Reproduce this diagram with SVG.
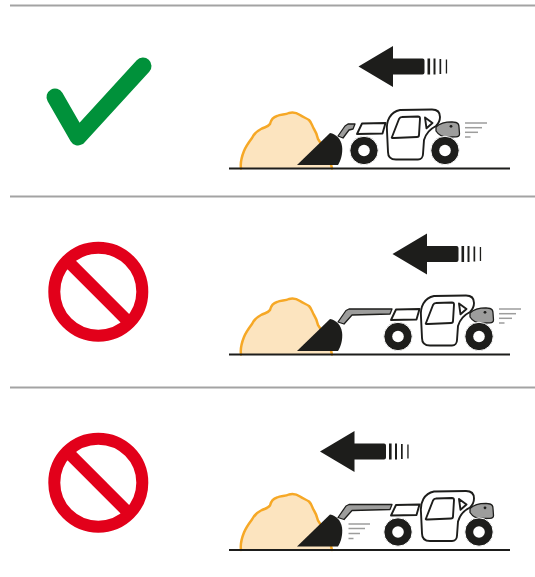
<svg xmlns="http://www.w3.org/2000/svg" width="535" height="577" viewBox="0 0 535 577">
  <defs>
    <style>
      .sep{stroke:#a3a3a3;stroke-width:1.8}
      .ink{fill:#1d1d1b}
      .panel{fill:#fff;stroke:#1d1d1b;stroke-width:1.9;stroke-linejoin:round}
      .grey{fill:#9d9d9c;stroke:#1d1d1b;stroke-width:1.3;stroke-linejoin:round}
      .speed{stroke:#9d9d9c;stroke-width:1.5}
      .pile-fill{fill:#fce4bf}
      .pile-edge{fill:none;stroke:#f6a826;stroke-width:2.5;stroke-linejoin:round;stroke-linecap:round}
      .ground{stroke:#1d1d1b;stroke-width:2}
      .ok{fill:none;stroke:#00913a;stroke-width:17;stroke-linecap:round;stroke-linejoin:round}
      .no{fill:none;stroke:#e2001a;stroke-width:12}
    </style>

    <!-- heap of material, ground and bucket (bucket stays at the heap face) -->
    <g id="workface">
      <path class="pile-fill" d="M241,168.5 C240,162 242,156 244,151 C246,146 249,142 252,138 C254,134 257,131 261,129 C265,127 268,127 270,124 C271,120 273,117 277,116 C281,114 285,115 289,113 C293,112 297,113 300,115 C303,117 306,118 309,120 C312,123 312,126 314,129 C316,132 317,135 318,139 C323,146 330,156 332,168.5 Z"/>
      <path class="pile-edge" d="M241,168.5 C240,162 242,156 244,151 C246,146 249,142 252,138 C254,134 257,131 261,129 C265,127 268,127 270,124 C271,120 273,117 277,116 C281,114 285,115 289,113 C293,112 297,113 300,115 C303,117 306,118 309,120 C312,123 312,126 314,129 C316,132 317,135 318,139 C323,146 330,156 332,168.5"/>
      <line class="ground" x1="229" y1="168.5" x2="510" y2="168.5"/>
      <path class="ink" d="M297,165 L330,133 C336,134 341,139 342,146 C343,153 341,160 338,165 Z"/>
    </g>

    <g id="wheel">
      <circle r="14.2" fill="#1d1d1b" stroke="#fff" stroke-width="1"/>
      <circle r="5.8" fill="#fff"/>
    </g>

    <!-- telehandler chassis, cab and rear engine cover -->
    <g id="machine">
      <path class="panel" d="M362,123.5 L385.5,123 L382.5,133.5 L357,134 Z"/>
      <path class="grey" d="M436,127 C440,123 445,121.8 452,121.8 L456,122.5 C458,123 459,125 459,127 L459.5,134 C459.5,136 458,136.8 456,136.8 L447,137 C442,137 438,134 436,131 Z"/>
      <circle cx="451" cy="126.3" r="1.4" fill="#1d1d1b"/>
      <path class="panel" stroke-width="2.2" d="M387,131 C386,121 390,112 400,110 L432,109.5 C437,109.5 440,112 440,117 C440,121 438,124 436,126 C430,129 426,133 424,140 L423,154 C423,157 421,159.5 418,159.5 L396,159.5 C391,159.5 388,157 388,152 Z"/>
      <path class="panel" d="M392,137 L399,119 Q400,117 402,117 L418,116.5 Q420,116.5 420,118.5 L419,135 Q419,137 417,137 L394,138 Q391,138.2 392,137 Z"/>
      <path class="panel" d="M425,117.5 L432.5,123 L426.5,128.3 Z"/>
      <use href="#wheel" x="364" y="150.5"/>
      <use href="#wheel" x="445" y="150.5"/>
    </g>

    <!-- short lifting arm (boom retracted) -->
    <path id="arm-short" class="grey" d="M338,136 L345,126 L348,124 L355,124 L353,129 L349,130 L343,138 Z"/>
    <!-- long lifting arm (boom extended) -->
    <path id="arm-long" class="grey" d="M338,136 L346,124.5 L349,123 L392,123 L390,128 L352,129 L344,138 Z"/>

    <g id="exhaust">
      <line class="speed" x1="465" y1="123" x2="487" y2="123"/>
      <line class="speed" x1="465" y1="127.7" x2="482" y2="127.7"/>
      <line class="speed" x1="465" y1="132.3" x2="478" y2="132.3"/>
      <line class="speed" x1="465" y1="137" x2="470.5" y2="137"/>
    </g>

    <!-- direction-of-travel arrow, tip at the origin -->
    <g id="travel" fill="#1d1d1b">
      <path d="M0,0 L34.5,-20.5 L34.5,-8 L64,-8 Q66,-8 66,-6 L66,6 Q66,8 64,8 L34.5,8 L34.5,20.5 Z"/>
      <rect x="69" y="-8" width="2.6" height="16"/>
      <rect x="75" y="-8" width="2" height="16"/>
      <rect x="81" y="-7.5" width="1.7" height="15"/>
      <rect x="87.3" y="-7" width="1.3" height="14"/>
    </g>

    <g id="no-sign">
      <circle class="no" r="44"/>
      <line class="no" x1="-31.1" y1="-31.1" x2="31.1" y2="31.1"/>
    </g>
  </defs>

  <g id="separators">
    <line class="sep" x1="10" y1="5.5" x2="535" y2="5.5"/>
    <line class="sep" x1="10" y1="196.5" x2="535" y2="196.5"/>
    <line class="sep" x1="10" y1="387.5" x2="535" y2="387.5"/>
  </g>

  <!-- correct: bucket low, boom retracted -->
  <g id="row-correct">
    <path id="check" class="ok" d="M55,97 L78,137 L143,66"/>
    <g id="scene-1">
      <use href="#travel" x="358.5" y="66.5"/>
      <use href="#workface"/>
      <use href="#arm-short"/>
      <use href="#machine"/>
      <use href="#exhaust"/>
    </g>
  </g>

  <!-- wrong: boom extended while driving in -->
  <g id="row-wrong-1">
    <use id="no-1" href="#no-sign" x="98.3" y="291.7"/>
    <g id="scene-2" transform="translate(0,186)">
      <use href="#travel" x="392.5" y="68"/>
      <use href="#workface"/>
      <use href="#arm-long"/>
      <use href="#machine" x="34"/>
      <use href="#exhaust" x="34"/>
    </g>
  </g>

  <!-- wrong: extending the boom into the heap -->
  <g id="row-wrong-2">
    <use id="no-2" href="#no-sign" x="98.3" y="482.7"/>
    <g id="scene-3" transform="translate(0,381.5)">
      <use href="#travel" x="320" y="70"/>
      <use href="#workface"/>
      <use href="#arm-long"/>
      <use href="#machine" x="34"/>
      <g id="boom-motion">
        <line class="speed" x1="348.5" y1="142.5" x2="370" y2="142.5"/>
        <line class="speed" x1="348.5" y1="147" x2="365" y2="147"/>
        <line class="speed" x1="348.5" y1="152" x2="360" y2="152"/>
        <line class="speed" x1="348.5" y1="157" x2="353.5" y2="157"/>
      </g>
    </g>
  </g>
</svg>
